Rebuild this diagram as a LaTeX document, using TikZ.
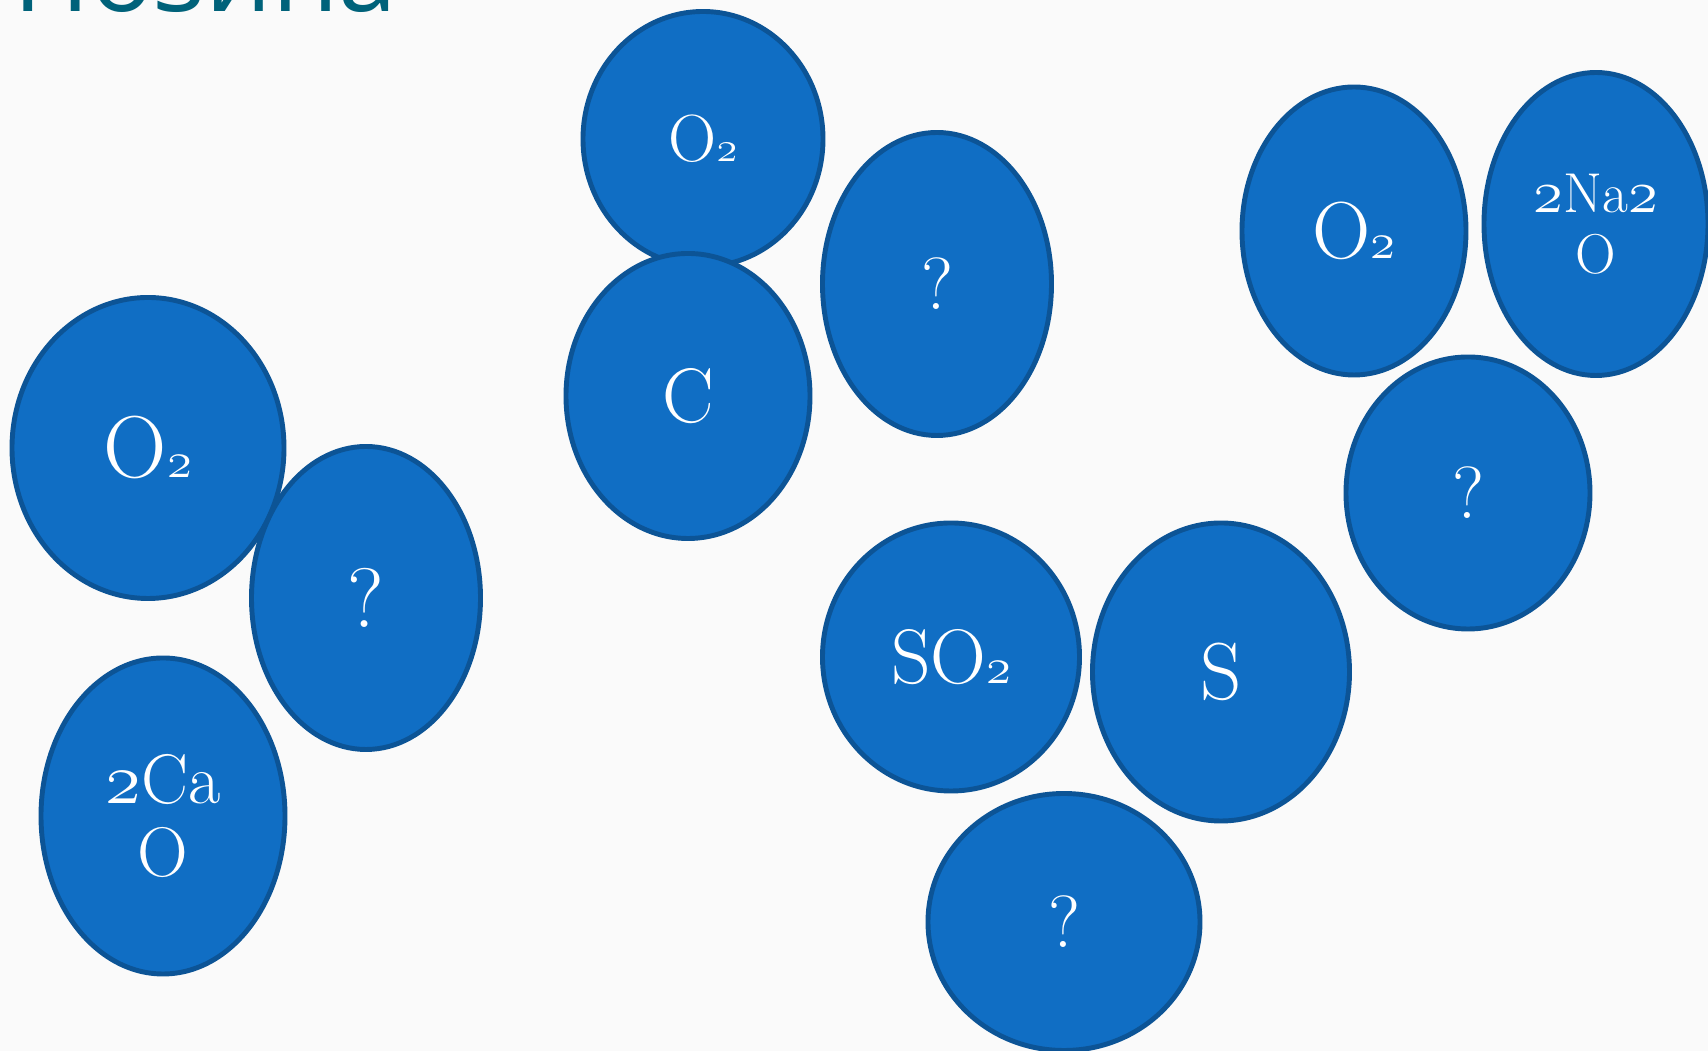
\documentclass[tikz,border=0pt]{standalone}
\usepackage{fontspec}
\usepackage{tikz}
\usetikzlibrary{shapes.geometric}
\newfontfamily\titlefont{Open Sans}
\definecolor{molblue}{RGB}{16, 110, 196}
\definecolor{molline}{RGB}{12, 84, 150}
\definecolor{titleteal}{RGB}{0, 98, 122}
\definecolor{paper}{RGB}{250, 250, 250}
\makeatletter
\newcommand{\osn}[1]{{\usefont{OML}{cmm}{m}{it}#1}}
\newcommand{\osnsmall}[1]{{\fontsize{\fpeval{0.62*\f@size}}{0}\usefont{OML}{cmm}{m}{it}#1}}
\makeatother
\newcommand{\fsz}[1]{\fontsize{#1}{1.15\dimexpr #1pt\relax}\selectfont}

\begin{document}
\begin{tikzpicture}[
    mol/.style={ellipse, draw=molline, fill=molblue, line width=1.4pt,
                text=white, inner sep=0pt, align=center},
    title/.style={text=titleteal, font=\titlefont\fontsize{30}{34}\selectfont, inner sep=0pt}
]
% Page
\useasboundingbox[fill=paper] (0,0) rectangle (17.08,10.51);

% Title (cut off at the top)
\node[title, anchor=base west] (title) at (0.13,10.39) {Позина};

% Carbon group
\node[mol, minimum width=2.40cm, minimum height=2.55cm, font=\fsz{19}] (o2top) at (7.03,9.12) {O\osnsmall{2}};
\node[mol, minimum width=2.29cm, minimum height=3.03cm, font=\fsz{21}] (qtop) at (9.37,7.67) {?};
\node[mol, minimum width=2.44cm, minimum height=2.85cm, font=\fsz{22}] (c) at (6.88,6.55) {C};

% Calcium group
\node[mol, minimum width=2.72cm, minimum height=3.01cm, font=\fsz{25}] (o2left) at (1.48,6.03) {O\osnsmall{2}};
\node[mol, minimum width=2.29cm, minimum height=3.03cm, font=\fsz{24}] (qleft) at (3.66,4.53) {?};
\node[mol, minimum width=2.44cm, minimum height=3.16cm, font=\fontsize{20}{21}\selectfont] (cao) at (1.63,2.35) {\osn{2}Ca\\O};

% Sodium group
\node[mol, minimum width=2.24cm, minimum height=2.88cm, font=\fsz{23}] (o2right) at (13.54,8.20) {O\osnsmall{2}};
\node[mol, minimum width=2.24cm, minimum height=3.03cm, font=\fontsize{16}{17.4}\selectfont] (nao) at (15.96,8.27) {\osn{2}Na\osn{2}\\O};
\node[mol, minimum width=2.44cm, minimum height=2.72cm, font=\fsz{21}] (qright) at (14.68,5.58) {?};

% Sulfur group
\node[mol, minimum width=2.57cm, minimum height=2.68cm, font=\fsz{22}] (so2) at (9.51,3.94) {SO\osnsmall{2}};
\node[mol, minimum width=2.57cm, minimum height=2.98cm, font=\fsz{23}] (s) at (12.21,3.79) {S};
\node[mol, minimum width=2.72cm, minimum height=2.57cm, font=\fsz{21}] (qbot) at (10.64,1.29) {?};
\end{tikzpicture}
\end{document}
